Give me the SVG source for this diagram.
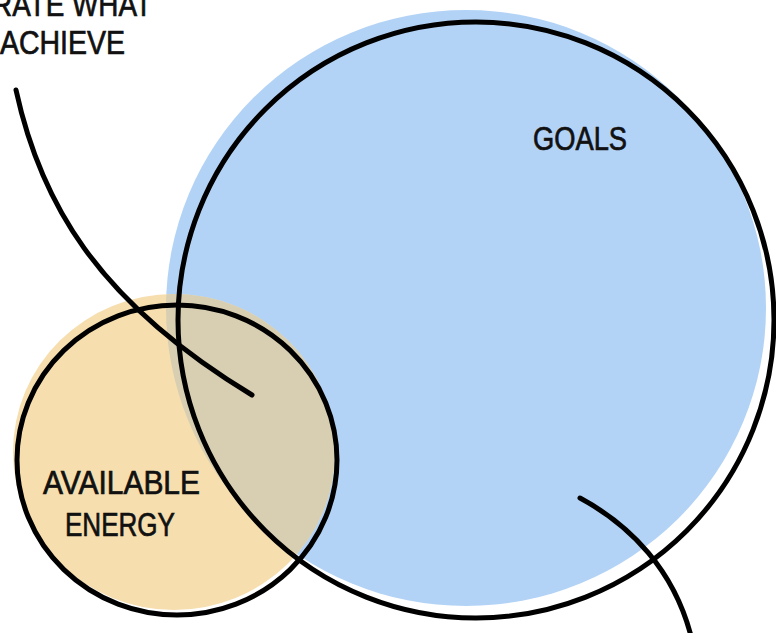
<svg xmlns="http://www.w3.org/2000/svg" width="776" height="633" viewBox="0 0 776 633">
<style>
.o{fill:none;stroke:#000;stroke-width:5;stroke-linecap:round}
.t{font-family:"Liberation Sans","DejaVu Sans",sans-serif;font-size:33px;fill:#111;stroke:#111;stroke-width:0.7}
</style>
<defs>
<clipPath id="tanClip"><ellipse cx="174" cy="452" rx="161" ry="158"/></clipPath>
</defs>
<rect width="776" height="633" fill="#fff"/>
<g id="goals">
<ellipse cx="466" cy="308" rx="300" ry="298" fill="#b3d3f6"/>
</g>
<g id="energy">
<ellipse cx="174" cy="452" rx="161" ry="158" fill="#f6deae"/>
<ellipse cx="466" cy="308" rx="300" ry="298" fill="#d8ceb1" clip-path="url(#tanClip)"/>
</g>
<g id="outlines">
<ellipse class="o" cx="476" cy="320" rx="298" ry="298"/>
<ellipse class="o" cx="177" cy="460" rx="160" ry="155"/>
</g>
<g id="connectors">
<path class="o" d="M16 90 C40 200 95 300 252 395"/>
<path class="o" d="M580 498 C630 525 675 570 692 640"/>
</g>
<g id="labels">
<text class="t" x="-8" y="16" textLength="160" lengthAdjust="spacingAndGlyphs">RATE WHAT</text>
<text class="t" x="0" y="54" textLength="125" lengthAdjust="spacingAndGlyphs">ACHIEVE</text>
<text class="t" x="533" y="150" textLength="94" lengthAdjust="spacingAndGlyphs">GOALS</text>
<text class="t" x="43" y="494" textLength="157" lengthAdjust="spacingAndGlyphs">AVAILABLE</text>
<text class="t" x="65" y="536" textLength="110" lengthAdjust="spacingAndGlyphs">ENERGY</text>
</g>
</svg>
